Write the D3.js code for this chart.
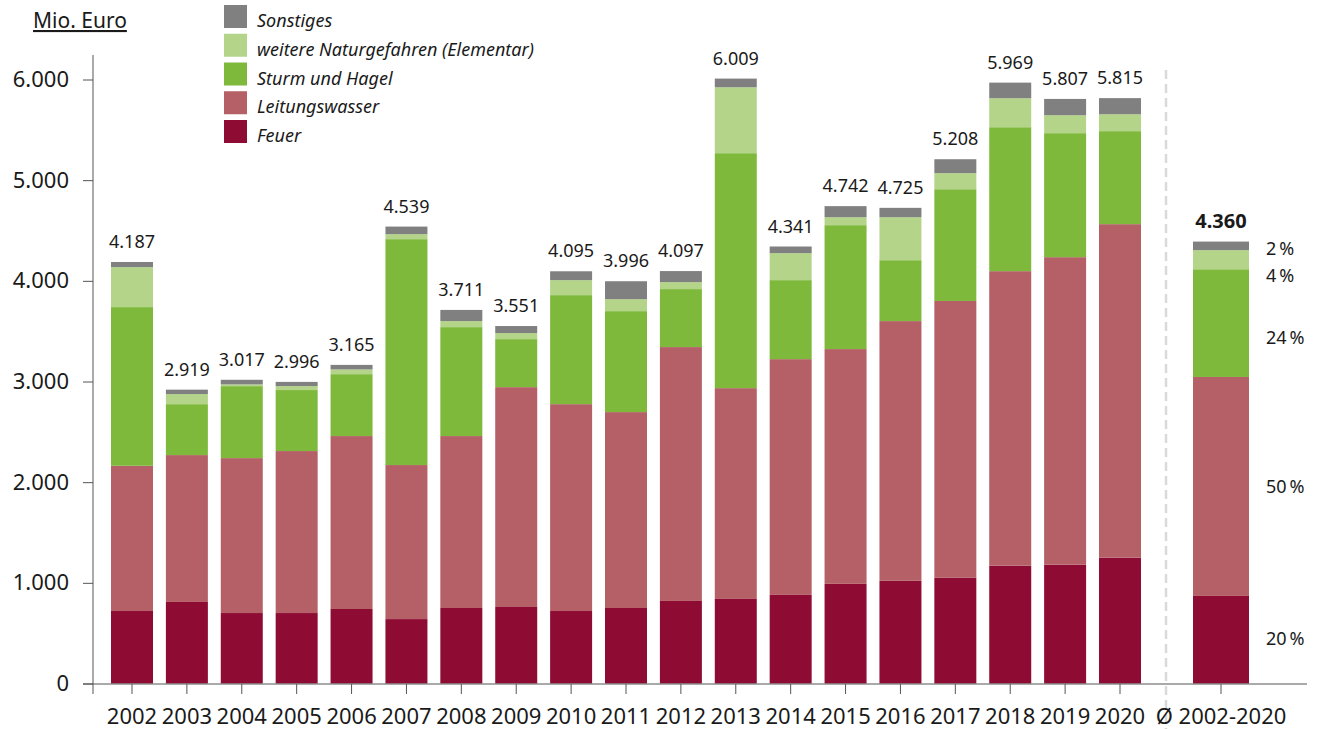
<!DOCTYPE html>
<html>
<head>
<meta charset="utf-8">
<script src="https://cdn.jsdelivr.net/npm/d3@7"></script>
<style>
  body { margin: 0; background: #fff; }
  text { font-family: "Noto Sans", sans-serif; fill: #1a1a1a; }
  .axis path, .axis line { stroke: #555; }
</style>
</head>
<body>
<div id="chart"></div>
<script>
// data (Mio. Euro)
var years = ["2002", "2003", "2004", "2005", "2006", "2007", "2008", "2009", "2010", "2011",
  "2012", "2013", "2014", "2015", "2016", "2017", "2018", "2019", "2020"];
var feuer          = [720, 810, 700, 700, 740, 640, 750, 760, 720, 750, 820, 840, 880, 990, 1020, 1050, 1170, 1180, 1250];
var leitungswasser = [1443, 1459, 1539, 1609, 1718, 1530, 1708, 2184, 2055, 1946, 2522, 2094, 2342, 2332, 2580, 2750, 2926, 3055, 3313];
var sturm          = [1576, 506, 715, 606, 615, 2244, 1082, 477, 1083, 1003, 576, 2334, 785, 1231, 605, 1110, 1430, 1232, 924];
var elementar      = [397, 100, 17, 39, 47, 50, 60, 60, 149, 119, 69, 655, 268, 79, 427, 160, 288, 178, 168];
var sonstiges      = [51, 44, 46, 42, 45, 75, 111, 70, 88, 178, 110, 86, 66, 110, 93, 138, 155, 162, 160];
var totals         = [4187, 2919, 3017, 2996, 3165, 4539, 3711, 3551, 4095, 3996, 4097, 6009, 4341, 4742, 4725, 5208, 5969, 5807, 5815];

var avgLabel = "\u00D8 2002-2020";
var avgValues = [870, 2175, 1070, 190, 85];   // feuer .. sonstiges
var avgTotal = 4360;
var avgShares = ["20\u2009%", "50\u2009%", "24\u2009%", "4\u2009%", "2\u2009%"];

var seriesNames = ["Feuer", "Leitungswasser", "Sturm und Hagel", "weitere Naturgefahren (Elementar)", "Sonstiges"];
var seriesColors = ["#8e0c34", "#b55f67", "#7eb93c", "#b4d48a", "#808080"];
var yTicks = [0, 1000, 2000, 3000, 4000, 5000, 6000];

var svgWidth = 1328;
var svgHeight = 729;

var svg = d3.select("#chart")
  .append("svg")
  .attr("width", svgWidth)
  .attr("height", svgHeight);

var de = d3.formatLocale({ decimal: ",", thousands: ".", grouping: [3], currency: ["", " €"] });
var fmt = de.format(",d");

// scales
var y = d3.scaleLinear().domain([0, 6000]).range([683.5, 79.5]);
var x = d3.scaleBand().domain(years).range([111, 1141]).paddingInner(0.235).paddingOuter(0);
var xAvg = d3.scaleBand().domain([avgLabel]).range([1193, 1249]).padding(0);

// table for the stack
var rows = years.map(function(yr, i) {
  return { key: yr, s0: feuer[i], s1: leitungswasser[i], s2: sturm[i], s3: elementar[i], s4: sonstiges[i] };
});
var avgRow = { key: avgLabel, s0: avgValues[0], s1: avgValues[1], s2: avgValues[2], s3: avgValues[3], s4: avgValues[4] };

var stack = d3.stack().keys(["s0", "s1", "s2", "s3", "s4"]);
var stacked = stack(rows);
var stackedAvg = stack([avgRow]);

// dashed separator
svg.append("line")
  .attr("x1", 1166).attr("x2", 1166)
  .attr("y1", 70).attr("y2", svgHeight)
  .attr("stroke", "#d9d9d9")
  .attr("stroke-width", 2.5)
  .attr("stroke-dasharray", "9,5");

// bars
svg.append("g").selectAll("g")
  .data(stacked)
  .enter()
  .append("g")
  .attr("fill", (d, i) => seriesColors[i])
  .selectAll("rect")
  .data(d => d)
  .enter()
  .append("rect")
  .attr("x", d => x(d.data.key))
  .attr("width", x.bandwidth())
  .attr("y", d => y(d[1]))
  .attr("height", d => y(d[0]) - y(d[1]));

svg.append("g").selectAll("rect")
  .data(stackedAvg)
  .enter()
  .append("rect")
  .attr("fill", (d, i) => seriesColors[i])
  .attr("x", xAvg(avgLabel))
  .attr("width", xAvg.bandwidth())
  .attr("y", d => y(d[0][1]))
  .attr("height", d => y(d[0][0]) - y(d[0][1]));

// total labels
var tops = stacked[stacked.length - 1];
svg.append("g").selectAll("text")
  .data(tops)
  .enter()
  .append("text")
  .attr("x", d => x(d.data.key) + x.bandwidth() / 2)
  .attr("y", d => y(d[1]) - 14)
  .attr("text-anchor", "middle")
  .attr("font-size", "18px")
  .text((d, i) => fmt(totals[i]));

svg.append("text")
  .attr("x", xAvg(avgLabel) + xAvg.bandwidth() / 2)
  .attr("y", y(stackedAvg[4][0][1]) - 14)
  .attr("text-anchor", "middle")
  .attr("font-size", "20px")
  .attr("font-weight", "bold")
  .text(fmt(avgTotal));

// share labels next to average bar
var shareY = [639, 487, 338, 276, 249];
svg.append("g").selectAll("text")
  .data(avgShares)
  .enter()
  .append("text")
  .attr("x", 1266)
  .attr("y", (d, i) => shareY[i])
  .attr("dy", "0.36em")
  .attr("font-size", "18px")
  .text(d => d);

// y axis
var yAxis = svg.append("g")
  .attr("class", "axis")
  .attr("transform", "translate(93,0)")
  .call(d3.axisLeft(y).tickValues(yTicks).tickFormat(fmt).tickSize(10).tickPadding(14));
yAxis.select(".domain").remove();

svg.append("line")
  .attr("x1", 93).attr("x2", 93)
  .attr("y1", 55).attr("y2", 694)
  .attr("stroke", "#555");

// x axis
var xAxisG = svg.append("g")
  .attr("class", "axis")
  .attr("transform", "translate(0,684)")
  .call(d3.axisBottom(x).tickSize(10).tickPadding(14));
xAxisG.select(".domain").remove();

var xAxisAvg = svg.append("g")
  .attr("class", "axis")
  .attr("transform", "translate(0,684)")
  .call(d3.axisBottom(xAvg).tickSize(10).tickPadding(14));
xAxisAvg.select(".domain").remove();

svg.selectAll(".axis text")
  .attr("font-size", "22px")
  .attr("fill", "#1a1a1a")
  .attr("font-family", "Noto Sans");

svg.append("line")
  .attr("x1", 83).attr("x2", 1307)
  .attr("y1", 684).attr("y2", 684)
  .attr("stroke", "#555");

// unit label
svg.append("text")
  .attr("x", 33)
  .attr("y", 28)
  .attr("font-size", "21px")
  .attr("text-decoration", "underline")
  .text("Mio. Euro");

// legend (top = Sonstiges)
var legend = svg.append("g").selectAll("g")
  .data(seriesNames.slice().reverse())
  .enter()
  .append("g")
  .attr("transform", (d, i) => `translate(224, ${5 + i * 28.75})`);

legend.append("rect")
  .attr("width", 23)
  .attr("height", 23)
  .attr("fill", (d, i) => seriesColors[seriesColors.length - 1 - i]);

legend.append("text")
  .attr("x", 33)
  .attr("y", 22)
  .attr("font-size", "18px")
  .attr("font-style", "italic")
  .text(d => d);
</script>
</body>
</html>
